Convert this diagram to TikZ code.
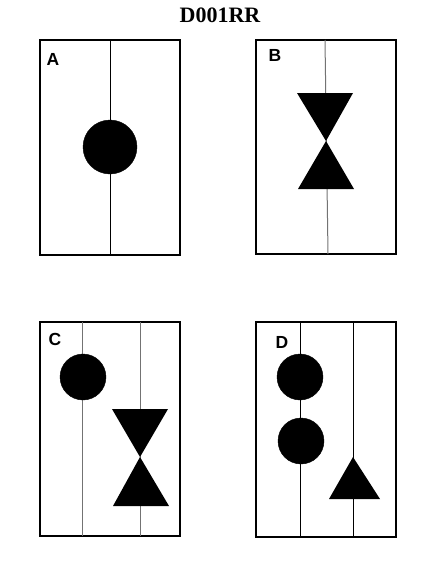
\documentclass[tikz,border=0pt]{standalone}
\usepackage{fontspec}
\setmainfont{Liberation Serif}
\newfontfamily\labelfont{Liberation Sans}
\tikzset{
  panel/.style={draw, line width=2pt},
  rail/.style={line width=1pt},
  grayrail/.style={line width=1pt, draw=black!55},
  tag/.style={font=\labelfont\bfseries\fontsize{17.5}{17.5}\selectfont},
}
\begin{document}
\begin{tikzpicture}[x=1pt,y=-1pt]
  \useasboundingbox (0,0) rectangle (440,587);
  \node[font=\bfseries\fontsize{22}{22}\selectfont] (title) at (220,15) {D001RR};

  % Panel A
  \draw[panel] (40,40) rectangle (180,255);
  \draw[rail] (110,40) -- (110,255);
  \filldraw (110,147) circle (27);
  \node[tag] (a) at (53,59) {A};

  % Panel B
  \draw[panel] (256,40) rectangle (396,254);
  \draw[grayrail] (325,40) -- (328,254);
  \coordinate (B1) at (297,93);
  \coordinate (B2) at (353,93);
  \coordinate (B3) at (326,141);
  \coordinate (B4) at (298,189);
  \coordinate (B5) at (354,189);
  \fill (B1) -- (B2) -- (B3) -- cycle;
  \fill (B3) -- (B4) -- (B5) -- cycle;
  \node[tag] (b) at (275,55) {B};

  % Panel C
  \draw[panel] (40,322) rectangle (180,536);
  \draw[grayrail] (82,322) -- (82,536);
  \draw[grayrail] (140,322) -- (140,536);
  \filldraw (83,377) circle (23);
  \coordinate (C1) at (112,409);
  \coordinate (C2) at (168,409);
  \coordinate (C3) at (140,457);
  \coordinate (C4) at (113,506);
  \coordinate (C5) at (169,506);
  \fill (C1) -- (C2) -- (C3) -- cycle;
  \fill (C3) -- (C4) -- (C5) -- cycle;
  \node[tag] (c) at (55,339) {C};

  % Panel D
  \draw[panel] (256,322) rectangle (396,537);
  \draw[rail] (300,322) -- (300,537);
  \draw[rail] (353,322) -- (353,537);
  \filldraw (300,377) circle (23);
  \filldraw (301,441) circle (23);
  \coordinate (D1) at (353,457);
  \coordinate (D2) at (329,499);
  \coordinate (D3) at (380,499);
  \fill (D1) -- (D2) -- (D3) -- cycle;
  \node[tag] (d) at (282,342) {D};
\end{tikzpicture}
\end{document}
